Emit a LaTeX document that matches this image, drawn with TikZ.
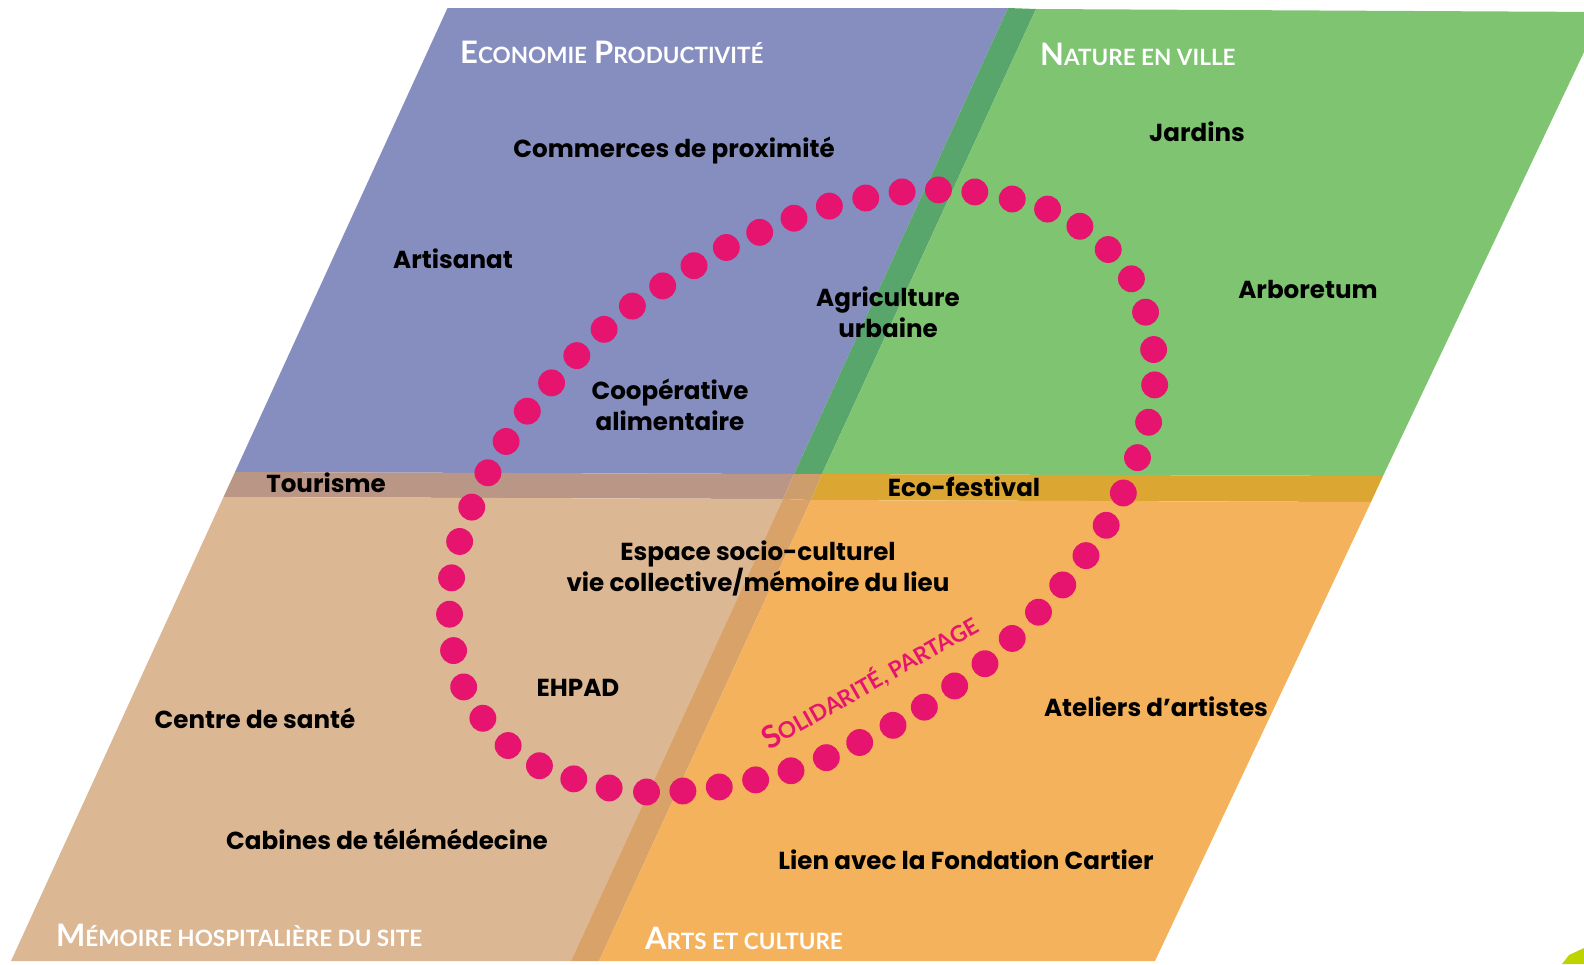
\documentclass[tikz,border=0pt]{standalone}
\usepackage{fontspec}
\setmainfont{Poppins}
\newfontfamily\headfont{Lato}
\definecolor{cblue}{RGB}{134,142,192}
\definecolor{cgreen}{RGB}{126,196,113}
\definecolor{cdkgreen}{RGB}{88,166,108}
\definecolor{cmauve}{RGB}{186,150,135}
\definecolor{cmid}{RGB}{205,158,108}
\definecolor{cgold}{RGB}{219,167,50}
\definecolor{ctan}{RGB}{220,183,148}
\definecolor{cdktan}{RGB}{216,162,104}
\definecolor{corange}{RGB}{245,178,92}
\definecolor{cmag}{RGB}{230,20,110}
\definecolor{cyg}{RGB}{190,212,0}
\newcommand{\SCap}[2]{{\fontsize{31}{31}\selectfont #1}{\fontsize{22.5}{23}\selectfont #2}}
\tikzset{
  lbl/.style={font=\bfseries\fontsize{24.6}{31}\selectfont, align=center, text=black, inner sep=0pt},
  head/.style={font=\headfont\bfseries, text=white, inner sep=0pt, anchor=base west},
  dot/.style={fill=cmag}
}
\begin{document}
\begin{tikzpicture}[x=1pt,y=-1pt]
\useasboundingbox (0,0) rectangle (1584,964);
\clip (0,0) rectangle (1584,964);
% top half
\fill[cblue] (447.5,8) -- (1008,8) -- (794,474) -- (235,472) -- cycle;
\fill[cdkgreen] (1008,8) -- (1036,9) -- (822,474) -- (794,474) -- cycle;
\fill[cgreen] (1036,9) -- (1603,12) -- (1383,476) -- (822,474) -- cycle;
% middle band
\fill[cmauve] (235,472) -- (794,474) -- (783,499) -- (223.5,497) -- cycle;
\fill[cmid] (794,474) -- (822,474) -- (811,500) -- (783,499) -- cycle;
\fill[cgold] (822,474) -- (1383,476) -- (1371,502) -- (811,500) -- cycle;
% bottom half
\fill[ctan] (223.5,497) -- (783,499) -- (571,961) -- (11,961) -- cycle;
\fill[cdktan] (783,499) -- (811,500) -- (599,961) -- (571,961) -- cycle;
\fill[corange] (811,500) -- (1371,502) -- (1155,961) -- (599,961) -- cycle;
% corner piece
\fill[cyg] (1562,964) -- (1569,955) -- (1584,948) -- (1584,964) -- cycle;

% headers
\node[head] (hEco) at (460,63.5) {\SCap{E}{CONOMIE}\hspace{7pt}\SCap{P}{RODUCTIVITÉ}};
\node[head] (hNat) at (1040,65) {\SCap{N}{ATURE EN VILLE}};
\node[head] (hMem) at (56,946) {\SCap{M}{ÉMOIRE HOSPITALIÈRE DU SITE}};
\node[head] (hArt) at (645,949) {\SCap{A}{RTS ET CULTURE}};

% dots
\begin{scope}[scale=1.0102]
\foreach \x/\y in {929/188,965/190,1002/197,1037/207,1069/224,1097/247,1120/276,1134/309,1142/346,1143/381,1137/418,1126/453,1112/488,1095/520,1075/550,1052/579,1028/606,1002/632,975/657,945/679,915/700,884/718,851/735,818/750,783/763,748/772,712/779,676/783,640/784,603/780,568/771,534/758,503/738,478/711,459/680,449/644,445/608,447/572,455/536,467/502,483/468,501/437,522/407,546/379,571/352,598/326,626/303,656/283,687/263,719/245,752/230,786/216,821/204,857/196,893/190}
  \fill[dot] (\x,\y) circle (13.3);
\end{scope}

% labels
\node[lbl] (commerces) at (674,151) {Commerces de proximité};
\node[lbl] (artisanat) at (453,259) {Artisanat};
\node[lbl] (agri) at (888,312) {Agriculture\\urbaine};
\node[lbl] (coop) at (670,405) {Coopérative\\alimentaire};
\node[lbl] (jardins) at (1197,132) {Jardins};
\node[lbl] (arbo) at (1308,289) {Arboretum};
\node[lbl] (tourisme) at (326,483) {Tourisme};
\node[lbl] (eco) at (964,487) {Eco-festival};
\node[lbl] (espace) at (758,568) {Espace socio-culturel\\vie collective/mémoire du lieu};
\node[lbl] (ehpad) at (578,688) {EHPAD};
\node[lbl] (sante) at (255,718) {Centre de santé};
\node[lbl] (ateliers) at (1156,707) {Ateliers d’artistes};
\node[lbl] (cabines) at (387,839) {Cabines de télémédecine};
\node[lbl] (lien) at (966,860) {Lien avec la Fondation Cartier};
\node[font=\headfont\bfseries, text=cmag, inner sep=0pt, rotate=29.5] (solid) at (870,682) {\SCap{S}{OLIDARITÉ, PARTAGE}};
\end{tikzpicture}
\end{document}
